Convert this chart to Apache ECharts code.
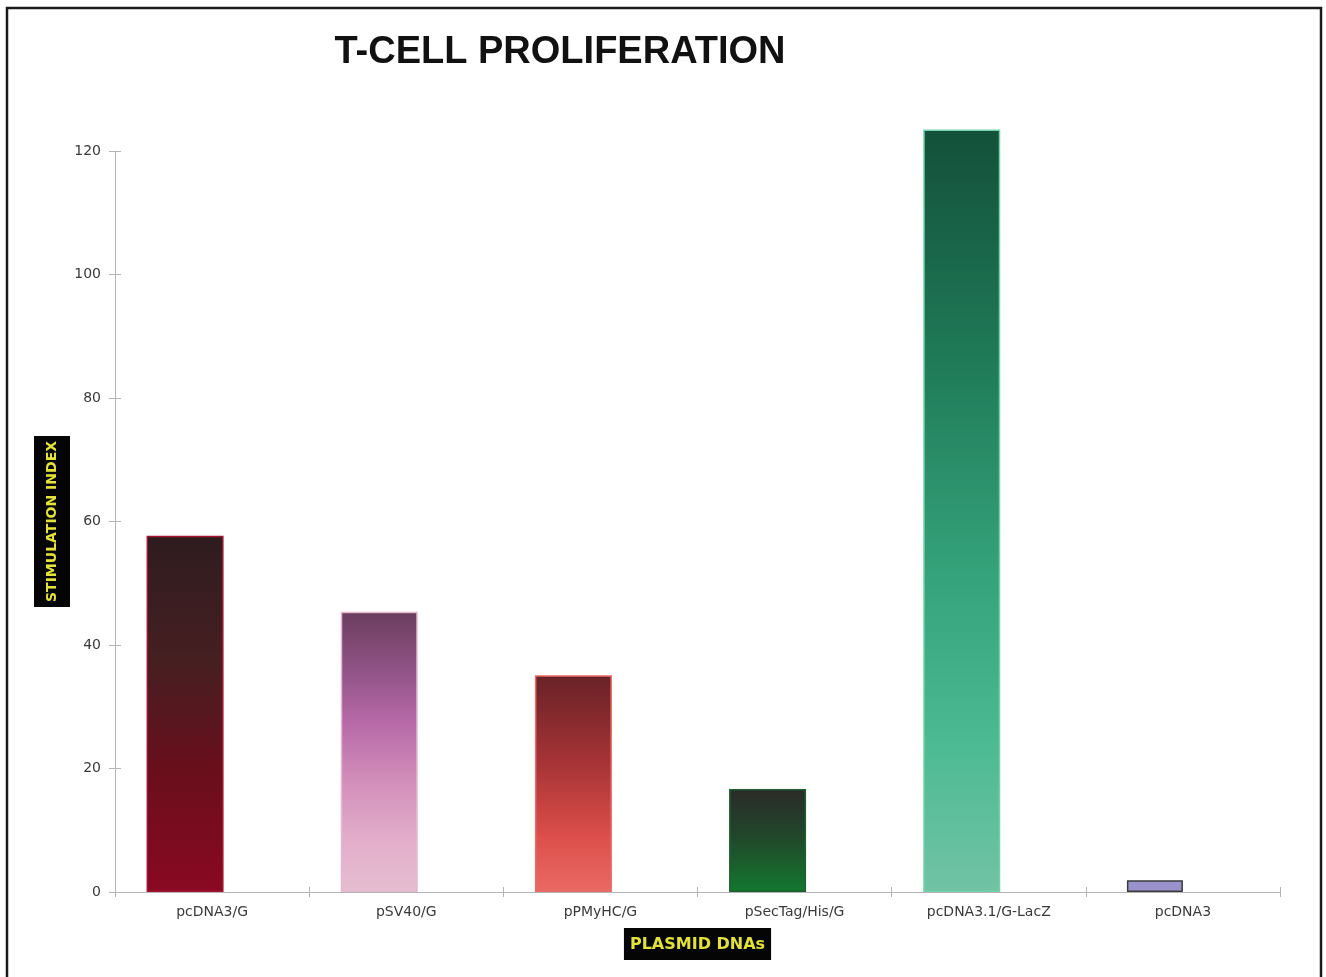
<!DOCTYPE html>
<html>
<head>
<meta charset="utf-8">
<script src="https://cdn.jsdelivr.net/npm/echarts@6/dist/echarts.min.js"></script>
<style>
html,body{margin:0;padding:0;background:#fff;}
#chart{width:1326px;height:977px;}
</style>
</head>
<body>
<div id="chart"></div>
<script>
// ---- data ----
const categories = ['pcDNA3/G', 'pSV40/G', 'pPMyHC/G', 'pSecTag/His/G', 'pcDNA3.1/G-LacZ', 'pcDNA3'];
const stimulationIndex = [57.7, 45.4, 35.1, 16.7, 123.5, 1.9];
const yMin = 0, yMax = 120, yStep = 20;
const titleText = 'T-CELL PROLIFERATION';
const yTitle = 'STIMULATION INDEX';
const xTitle = 'PLASMID DNAs';

// ---- styles ----
function grad(stops) {
  return new echarts.graphic.LinearGradient(0, 0, 0, 1,
    stops.map(s => ({ offset: s[0], color: s[1] })));
}
const barStyles = [
  { color: grad([[0,'#2e1c1f'],[0.35,'#461f21'],[0.65,'#680f1c'],[1,'#8a0922']]), borderColor: '#a2142f' },
  { color: grad([[0,'#6a3d5e'],[0.25,'#98588e'],[0.4,'#b86aa8'],[0.62,'#d391bb'],[0.82,'#e2aecb'],[1,'#e6bdd0']]), borderColor: '#e4b8cf' },
  { color: grad([[0,'#682226'],[0.4,'#a63336'],[0.75,'#dd4f4b'],[1,'#e96a63']]), borderColor: '#e86c66' },
  { color: grad([[0,'#2a2b28'],[0.5,'#214a2b'],[1,'#12792f']]), borderColor: '#1e5e30' },
  { color: grad([[0,'#13503a'],[0.3,'#1f7a58'],[0.6,'#36a57d'],[0.8,'#4bba92'],[1,'#71c3a5']]), borderColor: '#74d0ab' },
  { color: '#9a92cc', borderColor: '#3a3a3a' }
];
const lastIdx = categories.length - 1;

const mainData = stimulationIndex.map((v, i) => i === lastIdx ? '-' :
  { value: v, itemStyle: Object.assign({ borderWidth: 1.5 }, barStyles[i]) });
const smallData = stimulationIndex.map((v, i) => i !== lastIdx ? '-' :
  { value: v, itemStyle: Object.assign({ borderWidth: 1.5 }, barStyles[i]) });

const axisGray = '#b4b4b4';
const labelColor = '#3a3a3a';

const chart = echarts.init(document.getElementById('chart'), null, { renderer: 'canvas' });
chart.setOption({
  backgroundColor: '#fff',
  animation: false,
  title: {
    text: titleText,
    left: 560,
    textAlign: 'center',
    top: 34,
    padding: 0,
    textStyle: { fontFamily: 'Liberation Sans, Arial, sans-serif', fontWeight: 'bold', fontSize: 38, color: '#111' }
  },
  graphic: [{
    type: 'rect',
    shape: { x: 7, y: 8, width: 1314, height: 1000 },
    style: { fill: 'none', stroke: '#1a1a1a', lineWidth: 2.5 },
    silent: true
  }],
  grid: { left: 115, right: 46, top: 151, bottom: 85, containLabel: false },
  xAxis: [{
    type: 'category',
    data: categories,
    boundaryGap: true,
    axisLine: { lineStyle: { color: axisGray, width: 1 } },
    axisTick: { show: true, length: 5, lineStyle: { color: axisGray } },
    axisLabel: { color: labelColor, fontSize: 14, fontFamily: 'DejaVu Sans, sans-serif', margin: 13 },
    name: xTitle,
    nameLocation: 'middle',
    nameGap: 36,
    nameMoveOverlap: false,
    nameTextStyle: {
      color: '#e2e23a', backgroundColor: '#050505', fontFamily: 'DejaVu Sans, sans-serif',
      fontWeight: 'bold', fontSize: 16, padding: [9, 6, 7, 6]
    },
    splitLine: { show: false }
  }, {
    type: 'category',
    data: categories,
    position: 'bottom',
    boundaryGap: true,
    axisLine: { show: false },
    axisTick: { show: true, inside: true, length: 5, lineStyle: { color: axisGray } },
    axisLabel: { show: false },
    splitLine: { show: false }
  }],
  yAxis: [{
    type: 'value',
    min: yMin, max: yMax, interval: yStep,
    axisLine: { show: true, lineStyle: { color: axisGray, width: 1 } },
    axisTick: { show: true, length: 6, lineStyle: { color: axisGray } },
    axisLabel: { color: labelColor, fontSize: 14, fontFamily: 'DejaVu Sans, sans-serif', margin: 14 },
    splitLine: { show: false },
    name: yTitle,
    nameLocation: 'middle',
    nameGap: 45,
    nameRotate: 90,
    nameMoveOverlap: false,
    nameTextStyle: {
      color: '#e2e23a', backgroundColor: '#050505', fontFamily: 'DejaVu Sans, sans-serif',
      fontWeight: 'bold', fontSize: 14, padding: [11, 5, 11, 5]
    }
  }, {
    type: 'value',
    min: yMin, max: yMax, interval: yStep,
    position: 'left',
    axisLine: { show: false },
    axisTick: { show: true, inside: true, length: 6, lineStyle: { color: axisGray } },
    axisLabel: { show: false },
    splitLine: { show: false }
  }],
  series: [{
    type: 'bar',
    name: 'main',
    data: mainData,
    barWidth: 77,
    barGap: '-87.66%',
    clip: false,
    xAxisIndex: 0, yAxisIndex: 0
  }, {
    type: 'bar',
    name: 'small',
    data: smallData,
    barWidth: 56,
    barGap: '-87.66%',
    clip: false,
    xAxisIndex: 0, yAxisIndex: 0
  }, {
    type: 'bar',
    name: 'spacer',
    data: categories.map(() => '-'),
    barWidth: 114.6,
    barGap: '-87.66%',
    xAxisIndex: 0, yAxisIndex: 0,
    silent: true
  }]
});
</script>
</body>
</html>
